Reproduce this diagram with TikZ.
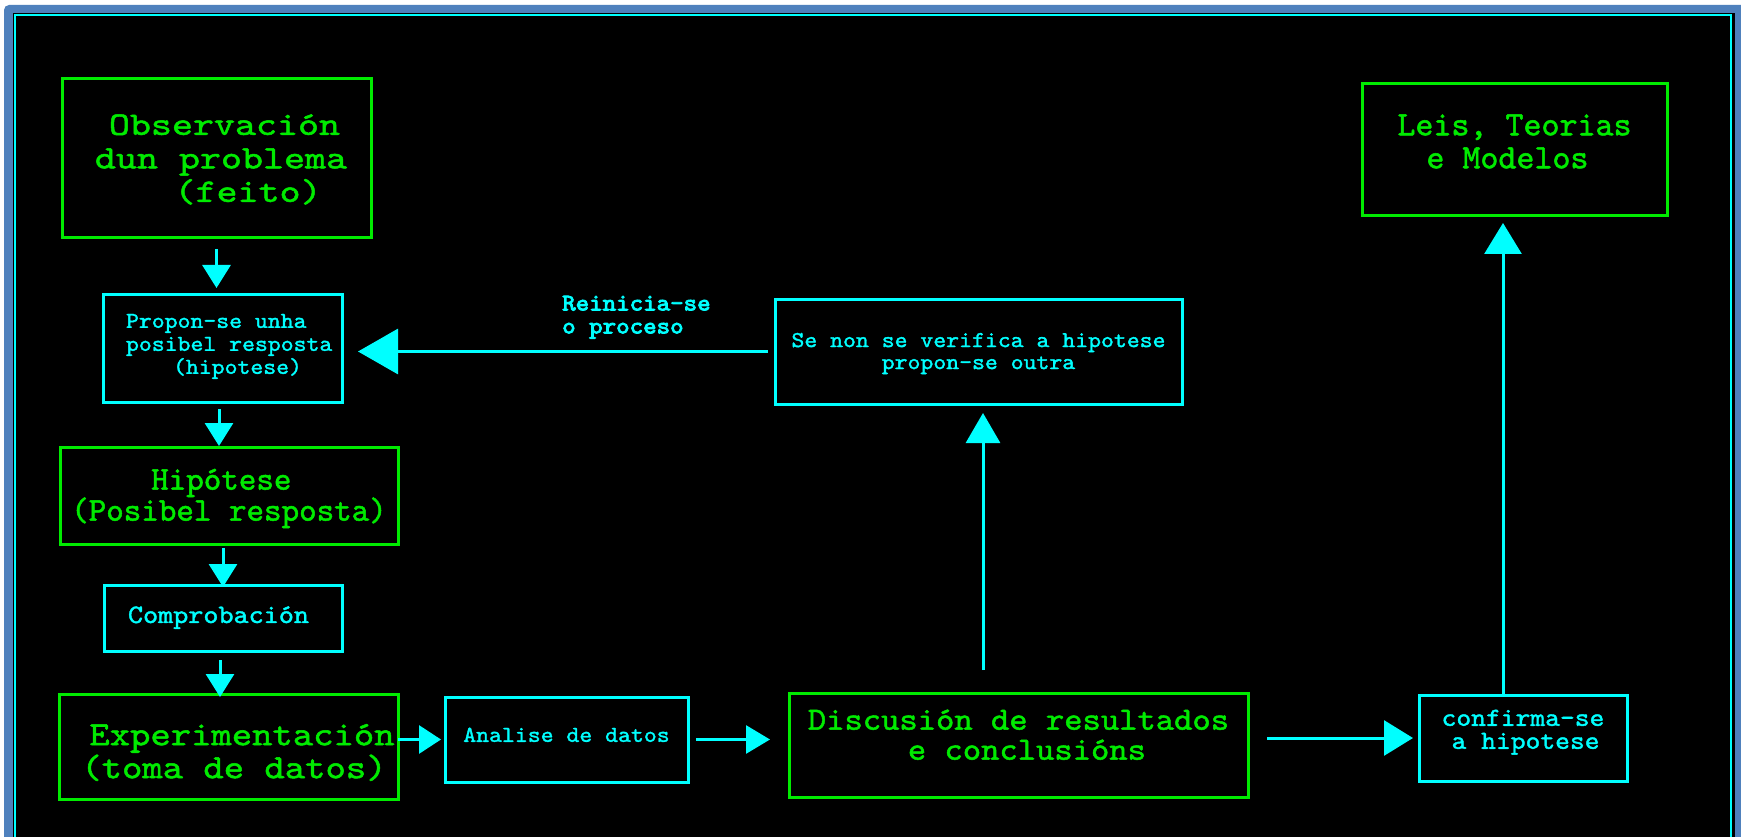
\documentclass[tikz,border=0pt]{standalone}
\usepackage{fontspec}
\usetikzlibrary{arrows.meta}
\newfontfamily\mA[FakeStretch=1.22,FakeBold=1.5]{lmmono10-regular.otf}
\newfontfamily\mB[FakeStretch=1.08,FakeBold=1.5]{lmmono10-regular.otf}
\newfontfamily\mC[FakeBold=1.5]{lmmono10-regular.otf}
\newfontfamily\mD[FakeStretch=1.14,FakeBold=1.5]{lmmono10-regular.otf}
\newfontfamily\mBb[FakeStretch=1.08,FakeBold=3.5]{lmmono10-regular.otf}
\definecolor{cy}{RGB}{0,255,255}
\definecolor{gr}{RGB}{0,235,0}
\definecolor{frameblue}{RGB}{79,129,189}
\lineskiplimit=-100pt
\newcommand\Hs[1][0pt]{\rule{0pt}{\dimexpr0.8em+#1\relax}}
\newcommand\Ds[1][0pt]{\rule[\dimexpr-0.2em-#1\relax]{0pt}{\dimexpr0.2em+#1\relax}}
\tikzset{
  box/.style={draw, line width=3pt, rectangle, inner sep=0pt, outer sep=0pt, align=left},
  gbox/.style={box, draw=gr, text=gr},
  cbox/.style={box, draw=cy, text=cy},
  conn/.style={draw=cy, line width=3pt},
  arrowhd/.style 2 args={-{Triangle[length=#1pt,width=#2pt]}, fill=cy}
}
\begin{document}
\begin{tikzpicture}[x=1pt,y=-1pt]
\useasboundingbox (0,0) rectangle (1741,837);
\begin{scope}
\clip (0,0) rectangle (1741,837);
\fill[white] (0,0) rectangle (1741,837);
\fill[frameblue, rounded corners=5pt] (4,5) rectangle (1780,880);
\fill[black] (12.5,13) rectangle (1735,880);
\draw[cy, line width=2pt] (15,15) rectangle (1731,900);
\end{scope}

% boxes
\node[gbox, minimum width=309pt, minimum height=159pt, font=\mA\fontsize{32.8}{33.5}\selectfont] (obs) at (216.5,158.5)
 {\Hs\hspace*{23pt}Observación\\\hspace*{9pt}dun problema\\\hspace*{88.6pt}(feito)\Ds};

\node[cbox, minimum width=239pt, minimum height=108pt, font=\mB\fontsize{22.75}{23}\selectfont] (prop) at (222.5,348)
 {\Hs\hspace*{13.4pt}Propon-se unha\\\hspace*{13.4pt}posibel resposta\\\hspace*{60.4pt}(hipotese)\Ds[8pt]};

\node[gbox, minimum width=338pt, minimum height=97pt, font=\mC\fontsize{33.4}{31}\selectfont] (hip) at (229,495.5)
 {\Hs\hspace*{80pt}Hipótese\\(Posibel resposta)\Ds};

\node[cbox, minimum width=238pt, minimum height=66pt, font=\mB\fontsize{26.6}{28}\selectfont] (comp) at (223,618)
 {\Hs Comprobación\hspace*{9pt}\Ds[6pt]};

\node[gbox, minimum width=339pt, minimum height=105pt, font=\mD\fontsize{34}{33}\selectfont] (exper) at (228.5,746.5)
 {\Hs[10pt]\hspace*{27pt}Experimentación\\\hspace*{19pt}(toma de datos)\Ds};

\node[cbox, minimum width=243pt, minimum height=85pt, font=\mB\fontsize{22.75}{23}\selectfont] (ana) at (566.5,739.5)
 {\Hs Analise de datos\Ds[9pt]};

\node[gbox, minimum width=459pt, minimum height=104pt, font=\mB\fontsize{32.3}{30}\selectfont] (disc) at (1018.5,745)
 {\Hs Discusión de resultados\\\hspace*{100pt}e conclusións\Ds[20pt]};

\node[cbox, minimum width=407pt, minimum height=105pt, align=center, font=\mB\fontsize{22.75}{22}\selectfont] (senon) at (978.5,351.5)
 {\Hs Se non se verifica a hipotese\\propon-se outra\Ds};

\node[cbox, minimum width=208pt, minimum height=86pt, font=\mB\fontsize{26.1}{23}\selectfont] (conf) at (1523,738)
 {\Hs confirma-se\\\hspace*{10pt}a hipotese\Ds[17pt]};

\node[gbox, minimum width=305pt, minimum height=132pt, font=\mC\fontsize{34.3}{33}\selectfont] (leis) at (1514.5,150)
 {\Hs Leis, Teorias\\\hspace*{29pt}e Modelos\Ds[17pt]};

\node[anchor=west, inner sep=0pt, text=cy, align=left, font=\mBb\fontsize{23.8}{23}\selectfont] (reinicia) at (562,315)
 {\Hs Reinicia-se\\o proceso\Ds};

% helper coordinates
\coordinate (p2) at ([xshift=-3.5pt]prop.south);
\coordinate (c2) at ([xshift=-3pt]comp.south);
\coordinate (s1) at ([xshift=4.5pt]senon.south);
\coordinate (k1) at ([xshift=-20pt]conf.north);

% connectors
\draw[conn, arrowhd={23}{28}, shorten <=11pt, shorten >=6pt] (obs.south) -- (obs.south |- prop.north);
\draw[conn, arrowhd={23}{28}, shorten <=7pt, shorten >=1pt] (p2) -- (p2 |- hip.north);
\draw[conn, arrowhd={23}{28}, shorten <=4pt, shorten >=-2pt] (hip.south -| comp.north) -- (comp.north);
\draw[conn, arrowhd={23}{28}, shorten <=9pt, shorten >=-3pt] (c2) -- (c2 |- exper.north);
\draw[conn, arrowhd={22}{28}, shorten >=4pt] (exper.east |- ana.west) -- (ana.west);
\draw[conn, arrowhd={24}{28}, shorten <=8pt, shorten >=19pt] (ana.east) -- (ana.east -| disc.west);
\draw[conn, arrowhd={29}{35}, shorten <=19pt, shorten >=6pt] (disc.east |- conf.west) -- (conf.west);
\draw[conn, arrowhd={30}{34}, shorten <=23pt, shorten >=9pt] (s1 |- disc.north) -- (s1);
\draw[conn, arrowhd={40}{45}, shorten <=7pt, shorten >=16pt] (senon.west) -- (senon.west -| prop.east);
\draw[conn, arrowhd={31}{37}, shorten >=7pt] (k1) -- (k1 |- leis.south);
\end{tikzpicture}
\end{document}
